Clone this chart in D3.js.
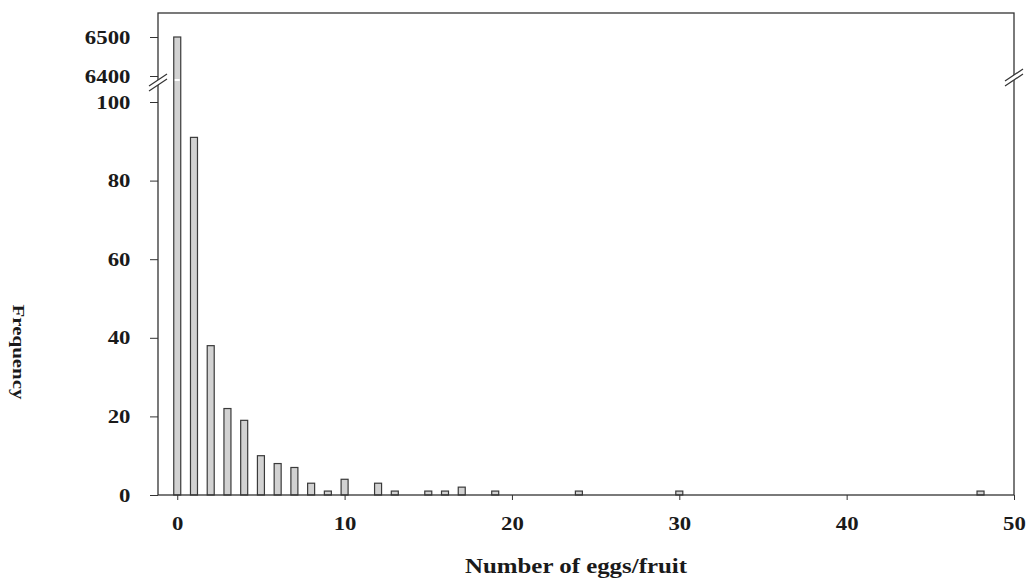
<!DOCTYPE html>
<html>
<head>
<meta charset="utf-8">
<script src="https://cdn.jsdelivr.net/npm/d3@7"></script>
<style>
  body { margin: 0; background: #fff; }
</style>
</head>
<body>
<svg></svg>
<script>
// data
var eggs = [0, 1, 2, 3, 4, 5, 6, 7, 8, 9, 10, 12, 13, 15, 16, 17, 19, 24, 30, 48];
var freq = [6500, 91, 38, 22, 19, 10, 8, 7, 3, 1, 4, 3, 1, 1, 1, 2, 1, 1, 1, 1];
var xTicks = [0, 10, 20, 30, 40, 50];
var yTicksLow = [0, 20, 40, 60, 80, 100];
var yTicksHigh = [6400, 6500];

var FONT = "'Liberation Serif', 'Times New Roman', serif";

var svg = d3.select("svg")
            .attr("width", 1036)
            .attr("height", 580);

var margin = {top: 13, right: 22, bottom: 85, left: 158},
    width = svg.attr("width") - margin.left - margin.right,
    height = svg.attr("height") - margin.top - margin.bottom,
    g = svg.append("g").attr("transform", "translate(" + margin.left + "," + margin.top + ")");

//scales (y is broken between 100 and 6400)
var x = d3.scaleLinear().domain([-1.15, 50]).range([0, width]);
var yLow = d3.scaleLinear().domain([0, 100]).range([height, 89]);
var yHigh = d3.scaleLinear().domain([6400, 6500]).range([63, 24]);
function y(v) { return v <= 100 ? yLow(v) : yHigh(v); }

var barW = 7;

//bars
g.selectAll(".bar")
    .data(eggs)
    .enter()
    .append("rect")
    .attr("class", "bar")
    .attr("x", function(d) { return x(d) - barW / 2; })
    .attr("y", function(d, i) { return y(freq[i]); })
    .attr("width", barW)
    .attr("height", function(d, i) { return height - y(freq[i]); })
    .style("fill", "#d2d2d2")
    .style("stroke", "#3a3a3a")
    .style("stroke-width", 1.2);

//frame
g.append("rect")
    .attr("width", width)
    .attr("height", height)
    .style("fill", "none")
    .style("stroke", "#333")
    .style("stroke-width", 1.3);

//x axis
var xAxis = g.append("g")
    .attr("transform", "translate(0," + height + ")")
    .call(d3.axisBottom(x).tickValues(xTicks).tickSize(5).tickPadding(17).tickFormat(d3.format("d")));
xAxis.select(".domain").remove();
xAxis.selectAll("line").style("stroke", "#333");
xAxis.selectAll("text")
    .style("font-family", FONT)
    .style("font-weight", "bold")
    .style("font-size", "19px")
    .style("fill", "#1a1a1a")
    .attr("transform", "scale(1.2,1)");

//y axes (lower and upper parts)
function yAxisPart(scale, ticks) {
    var a = g.append("g")
        .call(d3.axisLeft(scale).tickValues(ticks).tickSize(8).tickPadding(15).tickFormat(d3.format("d")));
    a.select(".domain").remove();
    a.selectAll("line").style("stroke", "#333");
    a.selectAll("text")
        .style("font-family", FONT)
        .style("font-weight", "bold")
        .style("font-size", "19px")
        .style("fill", "#1a1a1a")
        .attr("transform", "scale(1.2,1)");
}
yAxisPart(yLow, yTicksLow);
yAxisPart(yHigh, yTicksHigh);

//break marks on both sides
function breakMark(cx, cy) {
    g.append("path")
        .attr("d", "M" + (cx - 9) + "," + (cy + 6) + "L" + (cx + 9) + "," + (cy - 6) +
                   "L" + (cx + 9) + "," + (cy - 1) + "L" + (cx - 9) + "," + (cy + 11) + "Z")
        .style("fill", "#fff")
        .style("stroke", "none");
    g.append("line")
        .attr("x1", cx - 9).attr("y1", cy + 6).attr("x2", cx + 9).attr("y2", cy - 6)
        .style("stroke", "#333").style("stroke-width", 1.2);
    g.append("line")
        .attr("x1", cx - 9).attr("y1", cy + 11).attr("x2", cx + 9).attr("y2", cy - 1)
        .style("stroke", "#333").style("stroke-width", 1.2);
}
breakMark(0, 67);
breakMark(width, 62);

//gap in the tall bar
g.append("rect")
    .attr("x", x(0) - barW / 2 + 1)
    .attr("y", 66)
    .attr("width", barW - 2)
    .attr("height", 2)
    .style("fill", "#fff");

//axis titles
svg.append("text")
    .attr("x", 576)
    .attr("y", 573)
    .attr("text-anchor", "middle")
    .attr("textLength", 222)
    .attr("lengthAdjust", "spacingAndGlyphs")
    .style("font-family", FONT)
    .style("font-weight", "bold")
    .style("font-size", "20px")
    .style("fill", "#1a1a1a")
    .text("Number of eggs/fruit");

svg.append("text")
    .attr("transform", "translate(13,352) rotate(90)")
    .attr("text-anchor", "middle")
    .attr("textLength", 95)
    .attr("lengthAdjust", "spacingAndGlyphs")
    .style("font-family", FONT)
    .style("font-weight", "bold")
    .style("font-size", "16px")
    .style("fill", "#1a1a1a")
    .text("Frequency");
</script>
</body>
</html>
